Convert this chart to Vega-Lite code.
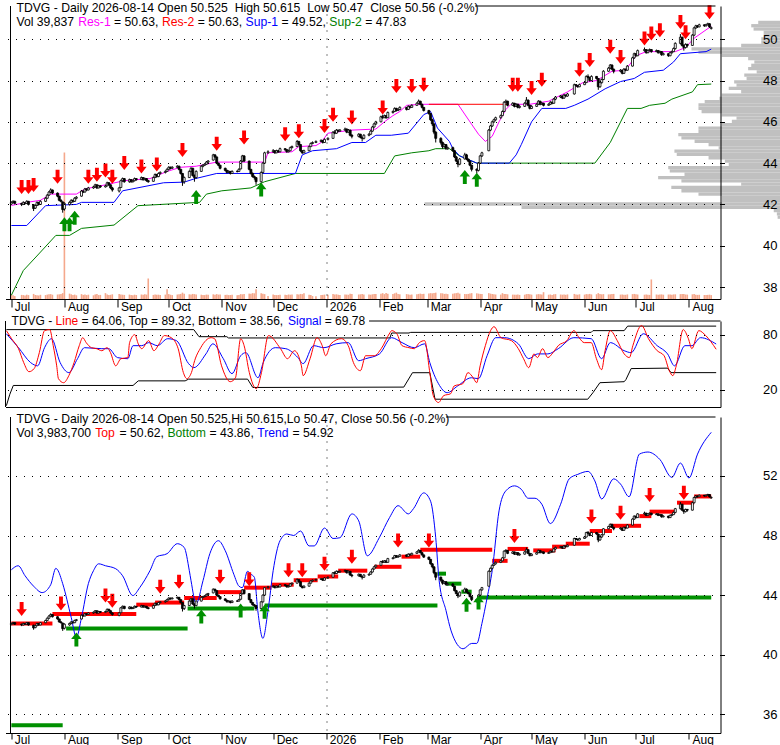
{
"$schema":"https://vega.github.io/schema/vega-lite/v6.json",
"background":"#ffffff",
"padding":{"left":3.5,"top":1,"right":0,"bottom":0},
"config":{"view":{"stroke":null},"font":"Liberation Sans","axis":{"domainColor":"#000","tickColor":"#000","labelColor":"#000","labelFont":"Liberation Sans","gridColor":"#000","gridDash":[1,7],"gridWidth":1,"domainWidth":1,"tickWidth":1}},
"datasets":{
"px":[
{"d":"2025-07-01","o":42.02,"h":42.15,"l":41.98,"c":42.1,"v":45},
{"d":"2025-07-02","o":42.1,"h":42.2,"l":42.05,"c":42.15,"v":38},
{"d":"2025-07-03","o":42.15,"h":42.18,"l":42.0,"c":42.05,"v":30},
{"d":"2025-07-07","o":42.05,"h":42.08,"l":41.92,"c":42.0,"v":42},
{"d":"2025-07-08","o":42.0,"h":42.15,"l":41.97,"c":42.1,"v":40},
{"d":"2025-07-09","o":42.08,"h":42.12,"l":42.0,"c":42.05,"v":35},
{"d":"2025-07-10","o":42.05,"h":42.2,"l":42.02,"c":42.15,"v":44},
{"d":"2025-07-11","o":42.15,"h":42.17,"l":41.95,"c":42.0,"v":40},
{"d":"2025-07-14","o":41.98,"h":42.02,"l":41.68,"c":41.8,"v":52},
{"d":"2025-07-15","o":41.82,"h":42.0,"l":41.78,"c":41.95,"v":41},
{"d":"2025-07-16","o":41.95,"h":42.14,"l":41.92,"c":42.1,"v":39},
{"d":"2025-07-17","o":42.1,"h":42.12,"l":41.95,"c":42.0,"v":36},
{"d":"2025-07-18","o":42.0,"h":42.2,"l":41.98,"c":42.15,"v":43},
{"d":"2025-07-21","o":42.15,"h":42.35,"l":42.12,"c":42.3,"v":40},
{"d":"2025-07-22","o":42.3,"h":42.5,"l":42.28,"c":42.45,"v":45},
{"d":"2025-07-23","o":42.45,"h":42.65,"l":42.42,"c":42.6,"v":48},
{"d":"2025-07-24","o":42.6,"h":42.78,"l":42.55,"c":42.7,"v":50},
{"d":"2025-07-25","o":42.7,"h":42.72,"l":42.5,"c":42.55,"v":44},
{"d":"2025-07-28","o":42.55,"h":42.58,"l":42.35,"c":42.4,"v":46},
{"d":"2025-07-29","o":42.4,"h":42.42,"l":42.15,"c":42.2,"v":48},
{"d":"2025-07-30","o":42.2,"h":42.25,"l":42.1,"c":42.15,"v":52},
{"d":"2025-07-31","o":42.12,"h":42.15,"l":41.6,"c":41.75,"v":60},
{"d":"2025-08-01","o":41.78,"h":42.1,"l":41.7,"c":42.05,"v":1500},
{"d":"2025-08-04","o":42.0,"h":42.15,"l":41.95,"c":42.1,"v":55},
{"d":"2025-08-05","o":42.1,"h":42.25,"l":42.05,"c":42.2,"v":48},
{"d":"2025-08-06","o":42.2,"h":42.22,"l":42.08,"c":42.15,"v":40},
{"d":"2025-08-07","o":42.15,"h":42.35,"l":42.12,"c":42.3,"v":45},
{"d":"2025-08-08","o":42.3,"h":42.4,"l":42.25,"c":42.35,"v":38},
{"d":"2025-08-11","o":42.4,"h":42.7,"l":42.38,"c":42.65,"v":50},
{"d":"2025-08-12","o":42.65,"h":42.68,"l":42.55,"c":42.6,"v":42},
{"d":"2025-08-13","o":42.6,"h":42.8,"l":42.58,"c":42.75,"v":46},
{"d":"2025-08-14","o":42.75,"h":42.78,"l":42.65,"c":42.7,"v":40},
{"d":"2025-08-15","o":42.7,"h":42.85,"l":42.68,"c":42.8,"v":44},
{"d":"2025-08-18","o":42.8,"h":42.9,"l":42.76,"c":42.85,"v":38},
{"d":"2025-08-19","o":42.85,"h":43.0,"l":42.82,"c":42.95,"v":47},
{"d":"2025-08-20","o":42.95,"h":42.97,"l":42.75,"c":42.8,"v":52},
{"d":"2025-08-21","o":42.8,"h":42.95,"l":42.78,"c":42.9,"v":40},
{"d":"2025-08-22","o":42.9,"h":42.93,"l":42.8,"c":42.85,"v":42},
{"d":"2025-08-25","o":42.85,"h":42.95,"l":42.82,"c":42.9,"v":60},
{"d":"2025-08-26","o":42.9,"h":43.1,"l":42.88,"c":43.05,"v":45},
{"d":"2025-08-27","o":43.05,"h":43.08,"l":42.9,"c":42.95,"v":41},
{"d":"2025-08-28","o":42.95,"h":42.98,"l":42.75,"c":42.8,"v":43},
{"d":"2025-08-29","o":42.8,"h":42.85,"l":42.62,"c":42.7,"v":48},
{"d":"2025-09-02","o":42.65,"h":42.85,"l":42.58,"c":42.8,"v":50},
{"d":"2025-09-03","o":42.82,"h":43.2,"l":42.8,"c":43.15,"v":47},
{"d":"2025-09-04","o":43.15,"h":43.3,"l":43.1,"c":43.25,"v":44},
{"d":"2025-09-05","o":43.25,"h":43.28,"l":43.05,"c":43.1,"v":42},
{"d":"2025-09-08","o":43.1,"h":43.25,"l":43.05,"c":43.2,"v":45},
{"d":"2025-09-09","o":43.2,"h":43.22,"l":43.05,"c":43.1,"v":40},
{"d":"2025-09-10","o":43.1,"h":43.2,"l":43.06,"c":43.15,"v":39},
{"d":"2025-09-11","o":43.15,"h":43.3,"l":43.12,"c":43.25,"v":44},
{"d":"2025-09-12","o":43.25,"h":43.27,"l":43.15,"c":43.2,"v":41},
{"d":"2025-09-15","o":43.2,"h":43.35,"l":43.18,"c":43.3,"v":46},
{"d":"2025-09-16","o":43.3,"h":43.32,"l":43.15,"c":43.2,"v":43},
{"d":"2025-09-17","o":43.2,"h":43.3,"l":43.17,"c":43.25,"v":48},
{"d":"2025-09-18","o":43.25,"h":43.28,"l":43.1,"c":43.15,"v":45},
{"d":"2025-09-19","o":43.15,"h":43.18,"l":43.05,"c":43.1,"v":210},
{"d":"2025-09-22","o":43.12,"h":43.35,"l":43.1,"c":43.3,"v":42},
{"d":"2025-09-23","o":43.3,"h":43.5,"l":43.28,"c":43.45,"v":46},
{"d":"2025-09-24","o":43.45,"h":43.48,"l":43.3,"c":43.35,"v":43},
{"d":"2025-09-25","o":43.35,"h":43.55,"l":43.32,"c":43.5,"v":44},
{"d":"2025-09-26","o":43.5,"h":43.6,"l":43.45,"c":43.55,"v":41},
{"d":"2025-09-29","o":43.55,"h":43.65,"l":43.5,"c":43.6,"v":45},
{"d":"2025-09-30","o":43.6,"h":43.75,"l":43.58,"c":43.7,"v":100},
{"d":"2025-10-01","o":43.7,"h":43.85,"l":43.66,"c":43.8,"v":50},
{"d":"2025-10-02","o":43.8,"h":43.83,"l":43.7,"c":43.75,"v":44},
{"d":"2025-10-03","o":43.75,"h":43.85,"l":43.72,"c":43.8,"v":40},
{"d":"2025-10-06","o":43.8,"h":43.9,"l":43.76,"c":43.85,"v":46},
{"d":"2025-10-07","o":43.85,"h":43.88,"l":43.65,"c":43.7,"v":48},
{"d":"2025-10-08","o":43.7,"h":43.72,"l":43.45,"c":43.5,"v":52},
{"d":"2025-10-09","o":43.5,"h":43.52,"l":42.9,"c":43.1,"v":65},
{"d":"2025-10-10","o":43.1,"h":43.35,"l":43.0,"c":43.3,"v":55},
{"d":"2025-10-13","o":43.3,"h":43.65,"l":43.28,"c":43.6,"v":48},
{"d":"2025-10-14","o":43.6,"h":43.8,"l":43.55,"c":43.75,"v":46},
{"d":"2025-10-15","o":43.75,"h":43.78,"l":43.35,"c":43.4,"v":52},
{"d":"2025-10-16","o":43.4,"h":43.45,"l":43.1,"c":43.3,"v":50},
{"d":"2025-10-17","o":43.3,"h":43.65,"l":43.25,"c":43.6,"v":47},
{"d":"2025-10-20","o":43.6,"h":43.9,"l":43.58,"c":43.85,"v":44},
{"d":"2025-10-21","o":43.85,"h":43.95,"l":43.8,"c":43.9,"v":42},
{"d":"2025-10-22","o":43.9,"h":44.0,"l":43.86,"c":43.95,"v":40},
{"d":"2025-10-23","o":43.95,"h":44.1,"l":43.92,"c":44.05,"v":45},
{"d":"2025-10-24","o":44.05,"h":44.15,"l":44.0,"c":44.1,"v":43},
{"d":"2025-10-27","o":44.15,"h":44.45,"l":44.12,"c":44.4,"v":48},
{"d":"2025-10-28","o":44.4,"h":44.42,"l":44.25,"c":44.3,"v":44},
{"d":"2025-10-29","o":44.3,"h":44.32,"l":43.95,"c":44.0,"v":50},
{"d":"2025-10-30","o":44.0,"h":44.02,"l":43.85,"c":43.9,"v":45},
{"d":"2025-10-31","o":43.9,"h":43.92,"l":43.7,"c":43.75,"v":47},
{"d":"2025-11-03","o":43.75,"h":43.78,"l":43.6,"c":43.65,"v":42},
{"d":"2025-11-04","o":43.65,"h":43.68,"l":43.5,"c":43.55,"v":44},
{"d":"2025-11-05","o":43.55,"h":43.65,"l":43.52,"c":43.6,"v":40},
{"d":"2025-11-06","o":43.6,"h":43.62,"l":43.45,"c":43.5,"v":41},
{"d":"2025-11-07","o":43.5,"h":43.65,"l":43.48,"c":43.6,"v":43},
{"d":"2025-11-10","o":43.6,"h":43.65,"l":43.55,"c":43.6,"v":39},
{"d":"2025-11-11","o":43.6,"h":43.75,"l":43.58,"c":43.7,"v":42},
{"d":"2025-11-12","o":43.72,"h":44.15,"l":43.7,"c":44.1,"v":50},
{"d":"2025-11-13","o":44.1,"h":44.4,"l":44.05,"c":44.35,"v":48},
{"d":"2025-11-14","o":44.35,"h":44.38,"l":44.05,"c":44.1,"v":52},
{"d":"2025-11-17","o":44.1,"h":44.12,"l":43.65,"c":43.7,"v":55},
{"d":"2025-11-18","o":43.7,"h":43.72,"l":43.45,"c":43.5,"v":53},
{"d":"2025-11-19","o":43.5,"h":43.55,"l":43.3,"c":43.35,"v":60},
{"d":"2025-11-20","o":43.35,"h":43.4,"l":43.2,"c":43.3,"v":58},
{"d":"2025-11-21","o":43.3,"h":43.32,"l":42.95,"c":43.1,"v":100},
{"d":"2025-11-24","o":43.1,"h":43.6,"l":43.05,"c":43.55,"v":60},
{"d":"2025-11-25","o":43.55,"h":44.05,"l":43.5,"c":44.0,"v":55},
{"d":"2025-11-26","o":44.0,"h":44.55,"l":43.98,"c":44.5,"v":50},
{"d":"2025-11-28","o":44.5,"h":44.62,"l":44.45,"c":44.55,"v":30},
{"d":"2025-12-01","o":44.55,"h":44.68,"l":44.5,"c":44.6,"v":45},
{"d":"2025-12-02","o":44.6,"h":44.63,"l":44.45,"c":44.5,"v":42},
{"d":"2025-12-03","o":44.5,"h":44.65,"l":44.48,"c":44.6,"v":40},
{"d":"2025-12-04","o":44.6,"h":44.63,"l":44.5,"c":44.55,"v":41},
{"d":"2025-12-05","o":44.55,"h":44.75,"l":44.52,"c":44.7,"v":44},
{"d":"2025-12-08","o":44.7,"h":44.72,"l":44.6,"c":44.65,"v":43},
{"d":"2025-12-09","o":44.65,"h":44.68,"l":44.5,"c":44.55,"v":42},
{"d":"2025-12-10","o":44.55,"h":44.65,"l":44.52,"c":44.6,"v":46},
{"d":"2025-12-11","o":44.6,"h":44.8,"l":44.58,"c":44.75,"v":44},
{"d":"2025-12-12","o":44.75,"h":44.85,"l":44.72,"c":44.8,"v":45},
{"d":"2025-12-15","o":44.8,"h":45.12,"l":44.78,"c":45.05,"v":48},
{"d":"2025-12-16","o":45.05,"h":45.08,"l":44.85,"c":44.9,"v":47},
{"d":"2025-12-17","o":44.9,"h":44.92,"l":44.55,"c":44.6,"v":52},
{"d":"2025-12-18","o":44.6,"h":44.62,"l":44.45,"c":44.5,"v":50},
{"d":"2025-12-19","o":44.5,"h":44.65,"l":44.48,"c":44.6,"v":60},
{"d":"2025-12-22","o":44.6,"h":44.85,"l":44.58,"c":44.8,"v":44},
{"d":"2025-12-23","o":44.8,"h":45.0,"l":44.78,"c":44.95,"v":42},
{"d":"2025-12-24","o":44.95,"h":45.05,"l":44.92,"c":45.0,"v":30},
{"d":"2025-12-26","o":45.0,"h":45.1,"l":44.97,"c":45.05,"v":28},
{"d":"2025-12-29","o":45.05,"h":45.15,"l":45.02,"c":45.1,"v":40},
{"d":"2025-12-30","o":45.1,"h":45.12,"l":44.95,"c":45.0,"v":42},
{"d":"2025-12-31","o":45.0,"h":45.2,"l":44.98,"c":45.15,"v":45},
{"d":"2026-01-02","o":45.15,"h":45.25,"l":45.1,"c":45.2,"v":44},
{"d":"2026-01-05","o":45.2,"h":45.55,"l":45.18,"c":45.5,"v":50},
{"d":"2026-01-06","o":45.5,"h":45.6,"l":45.4,"c":45.45,"v":46},
{"d":"2026-01-07","o":45.45,"h":45.65,"l":45.42,"c":45.6,"v":48},
{"d":"2026-01-08","o":45.6,"h":45.62,"l":45.5,"c":45.55,"v":44},
{"d":"2026-01-09","o":45.55,"h":45.65,"l":45.52,"c":45.6,"v":42},
{"d":"2026-01-12","o":45.6,"h":45.72,"l":45.58,"c":45.65,"v":47},
{"d":"2026-01-13","o":45.65,"h":45.68,"l":45.45,"c":45.5,"v":45},
{"d":"2026-01-14","o":45.5,"h":45.65,"l":45.48,"c":45.6,"v":43},
{"d":"2026-01-15","o":45.6,"h":45.62,"l":45.3,"c":45.35,"v":55},
{"d":"2026-01-16","o":45.35,"h":45.4,"l":45.2,"c":45.3,"v":50},
{"d":"2026-01-20","o":45.3,"h":45.45,"l":45.25,"c":45.4,"v":46},
{"d":"2026-01-21","o":45.4,"h":45.42,"l":45.2,"c":45.25,"v":48},
{"d":"2026-01-22","o":45.25,"h":45.28,"l":45.05,"c":45.2,"v":52},
{"d":"2026-01-23","o":45.2,"h":45.4,"l":45.15,"c":45.35,"v":47},
{"d":"2026-01-26","o":45.35,"h":45.45,"l":45.3,"c":45.4,"v":45},
{"d":"2026-01-27","o":45.4,"h":45.6,"l":45.38,"c":45.55,"v":44},
{"d":"2026-01-28","o":45.55,"h":45.8,"l":45.52,"c":45.75,"v":48},
{"d":"2026-01-29","o":45.75,"h":45.95,"l":45.72,"c":45.9,"v":50},
{"d":"2026-01-30","o":45.9,"h":46.05,"l":45.85,"c":46.0,"v":52},
{"d":"2026-02-02","o":46.0,"h":46.3,"l":45.98,"c":46.25,"v":55},
{"d":"2026-02-03","o":46.25,"h":46.35,"l":46.15,"c":46.2,"v":60},
{"d":"2026-02-04","o":46.2,"h":46.35,"l":46.18,"c":46.3,"v":50},
{"d":"2026-02-05","o":46.3,"h":46.32,"l":46.15,"c":46.2,"v":62},
{"d":"2026-02-06","o":46.2,"h":46.5,"l":46.18,"c":46.45,"v":55},
{"d":"2026-02-09","o":46.45,"h":46.55,"l":46.4,"c":46.5,"v":50},
{"d":"2026-02-10","o":46.5,"h":46.7,"l":46.48,"c":46.65,"v":58},
{"d":"2026-02-11","o":46.65,"h":46.68,"l":46.5,"c":46.55,"v":65},
{"d":"2026-02-12","o":46.55,"h":46.65,"l":46.52,"c":46.6,"v":52},
{"d":"2026-02-13","o":46.6,"h":46.75,"l":46.58,"c":46.7,"v":48},
{"d":"2026-02-17","o":46.7,"h":46.72,"l":46.55,"c":46.6,"v":50},
{"d":"2026-02-18","o":46.6,"h":46.8,"l":46.58,"c":46.75,"v":47},
{"d":"2026-02-19","o":46.75,"h":46.78,"l":46.65,"c":46.7,"v":44},
{"d":"2026-02-20","o":46.7,"h":46.85,"l":46.68,"c":46.8,"v":46},
{"d":"2026-02-23","o":46.8,"h":46.95,"l":46.78,"c":46.9,"v":49},
{"d":"2026-02-24","o":46.9,"h":47.08,"l":46.88,"c":47.0,"v":52},
{"d":"2026-02-25","o":47.0,"h":47.02,"l":46.8,"c":46.85,"v":55},
{"d":"2026-02-26","o":46.85,"h":46.88,"l":46.65,"c":46.7,"v":50},
{"d":"2026-02-27","o":46.7,"h":46.72,"l":46.5,"c":46.55,"v":53},
{"d":"2026-03-02","o":46.55,"h":46.58,"l":46.35,"c":46.4,"v":56},
{"d":"2026-03-03","o":46.4,"h":46.42,"l":46.05,"c":46.1,"v":60},
{"d":"2026-03-04","o":46.1,"h":46.15,"l":45.8,"c":45.9,"v":58},
{"d":"2026-03-05","o":45.9,"h":45.92,"l":45.4,"c":45.5,"v":62},
{"d":"2026-03-06","o":45.5,"h":45.55,"l":45.0,"c":45.2,"v":65},
{"d":"2026-03-09","o":45.2,"h":45.25,"l":44.9,"c":45.0,"v":60},
{"d":"2026-03-10","o":45.0,"h":45.05,"l":44.7,"c":44.8,"v":58},
{"d":"2026-03-11","o":44.8,"h":44.95,"l":44.75,"c":44.9,"v":52},
{"d":"2026-03-12","o":44.9,"h":44.92,"l":44.65,"c":44.7,"v":55},
{"d":"2026-03-13","o":44.7,"h":44.8,"l":44.65,"c":44.75,"v":50},
{"d":"2026-03-16","o":44.75,"h":44.8,"l":44.55,"c":44.6,"v":54},
{"d":"2026-03-17","o":44.6,"h":44.62,"l":44.25,"c":44.3,"v":58},
{"d":"2026-03-18","o":44.3,"h":44.35,"l":44.05,"c":44.1,"v":60},
{"d":"2026-03-19","o":44.1,"h":44.12,"l":43.8,"c":43.95,"v":65},
{"d":"2026-03-20","o":43.95,"h":44.25,"l":43.9,"c":44.2,"v":55},
{"d":"2026-03-23","o":44.2,"h":44.5,"l":44.18,"c":44.4,"v":52},
{"d":"2026-03-24","o":44.4,"h":44.45,"l":44.15,"c":44.2,"v":50},
{"d":"2026-03-25","o":44.2,"h":44.22,"l":44.05,"c":44.1,"v":52},
{"d":"2026-03-26","o":44.1,"h":44.12,"l":43.85,"c":43.9,"v":56},
{"d":"2026-03-27","o":43.9,"h":43.92,"l":43.6,"c":43.7,"v":60},
{"d":"2026-03-30","o":43.7,"h":43.75,"l":43.5,"c":43.65,"v":58},
{"d":"2026-03-31","o":43.65,"h":44.05,"l":43.6,"c":44.0,"v":55},
{"d":"2026-04-01","o":44.0,"h":44.4,"l":43.98,"c":44.35,"v":52},
{"d":"2026-04-02","o":44.35,"h":44.55,"l":44.3,"c":44.5,"v":50},
{"d":"2026-04-06","o":44.6,"h":45.65,"l":44.58,"c":45.6,"v":60},
{"d":"2026-04-07","o":45.6,"h":45.85,"l":45.55,"c":45.8,"v":55},
{"d":"2026-04-08","o":45.8,"h":46.05,"l":45.75,"c":46.0,"v":50},
{"d":"2026-04-09","o":46.0,"h":46.15,"l":45.95,"c":46.1,"v":48},
{"d":"2026-04-10","o":46.1,"h":46.25,"l":46.05,"c":46.2,"v":46},
{"d":"2026-04-13","o":46.2,"h":46.35,"l":46.15,"c":46.3,"v":45},
{"d":"2026-04-14","o":46.3,"h":46.55,"l":46.28,"c":46.5,"v":60},
{"d":"2026-04-15","o":46.5,"h":47.0,"l":46.48,"c":46.95,"v":52},
{"d":"2026-04-16","o":46.95,"h":47.08,"l":46.9,"c":47.0,"v":50},
{"d":"2026-04-17","o":47.0,"h":47.02,"l":46.75,"c":46.8,"v":48},
{"d":"2026-04-20","o":46.8,"h":46.95,"l":46.78,"c":46.9,"v":45},
{"d":"2026-04-21","o":46.9,"h":46.92,"l":46.7,"c":46.75,"v":44},
{"d":"2026-04-22","o":46.75,"h":46.9,"l":46.72,"c":46.85,"v":43},
{"d":"2026-04-23","o":46.85,"h":46.88,"l":46.65,"c":46.7,"v":46},
{"d":"2026-04-24","o":46.7,"h":46.8,"l":46.65,"c":46.75,"v":42},
{"d":"2026-04-27","o":46.75,"h":46.95,"l":46.72,"c":46.9,"v":44},
{"d":"2026-04-28","o":46.9,"h":47.2,"l":46.88,"c":47.05,"v":50},
{"d":"2026-04-29","o":47.05,"h":47.08,"l":46.75,"c":46.8,"v":52},
{"d":"2026-04-30","o":46.8,"h":46.82,"l":46.6,"c":46.65,"v":48},
{"d":"2026-05-01","o":46.65,"h":46.8,"l":46.62,"c":46.75,"v":45},
{"d":"2026-05-04","o":46.75,"h":46.9,"l":46.72,"c":46.85,"v":47},
{"d":"2026-05-05","o":46.85,"h":47.05,"l":46.82,"c":47.0,"v":50},
{"d":"2026-05-06","o":47.0,"h":47.02,"l":46.8,"c":46.85,"v":48},
{"d":"2026-05-07","o":46.85,"h":46.95,"l":46.82,"c":46.9,"v":45},
{"d":"2026-05-08","o":46.9,"h":46.92,"l":46.75,"c":46.8,"v":70},
{"d":"2026-05-11","o":46.8,"h":46.9,"l":46.78,"c":46.85,"v":44},
{"d":"2026-05-12","o":46.85,"h":47.0,"l":46.82,"c":46.95,"v":46},
{"d":"2026-05-13","o":46.95,"h":46.98,"l":46.85,"c":46.9,"v":42},
{"d":"2026-05-14","o":46.9,"h":47.15,"l":46.88,"c":47.1,"v":48},
{"d":"2026-05-15","o":47.1,"h":47.25,"l":47.05,"c":47.2,"v":50},
{"d":"2026-05-18","o":47.2,"h":47.3,"l":47.15,"c":47.25,"v":46},
{"d":"2026-05-19","o":47.25,"h":47.28,"l":47.1,"c":47.15,"v":44},
{"d":"2026-05-20","o":47.15,"h":47.35,"l":47.12,"c":47.3,"v":45},
{"d":"2026-05-21","o":47.3,"h":47.32,"l":47.2,"c":47.25,"v":43},
{"d":"2026-05-22","o":47.25,"h":47.4,"l":47.22,"c":47.35,"v":47},
{"d":"2026-05-26","o":47.35,"h":47.85,"l":47.32,"c":47.8,"v":52},
{"d":"2026-05-27","o":47.8,"h":47.82,"l":47.7,"c":47.75,"v":46},
{"d":"2026-05-28","o":47.75,"h":47.78,"l":47.65,"c":47.7,"v":44},
{"d":"2026-05-29","o":47.7,"h":47.85,"l":47.68,"c":47.8,"v":48},
{"d":"2026-06-01","o":47.8,"h":47.95,"l":47.78,"c":47.9,"v":45},
{"d":"2026-06-02","o":47.9,"h":48.25,"l":47.88,"c":48.2,"v":50},
{"d":"2026-06-03","o":48.2,"h":48.3,"l":48.1,"c":48.15,"v":48},
{"d":"2026-06-04","o":48.15,"h":48.18,"l":47.95,"c":48.0,"v":52},
{"d":"2026-06-05","o":48.0,"h":48.25,"l":47.98,"c":48.2,"v":47},
{"d":"2026-06-08","o":48.2,"h":48.22,"l":48.05,"c":48.1,"v":49},
{"d":"2026-06-09","o":48.1,"h":48.12,"l":47.55,"c":47.7,"v":60},
{"d":"2026-06-10","o":47.7,"h":47.95,"l":47.65,"c":47.9,"v":52},
{"d":"2026-06-11","o":47.9,"h":48.1,"l":47.85,"c":48.05,"v":48},
{"d":"2026-06-12","o":48.05,"h":48.5,"l":48.02,"c":48.45,"v":50},
{"d":"2026-06-15","o":48.45,"h":48.65,"l":48.42,"c":48.6,"v":47},
{"d":"2026-06-16","o":48.6,"h":48.8,"l":48.55,"c":48.75,"v":48},
{"d":"2026-06-17","o":48.75,"h":48.78,"l":48.5,"c":48.55,"v":50},
{"d":"2026-06-18","o":48.55,"h":48.58,"l":48.35,"c":48.45,"v":52},
{"d":"2026-06-22","o":48.45,"h":48.55,"l":48.4,"c":48.5,"v":45},
{"d":"2026-06-23","o":48.5,"h":48.52,"l":48.3,"c":48.35,"v":46},
{"d":"2026-06-24","o":48.35,"h":48.6,"l":48.32,"c":48.55,"v":44},
{"d":"2026-06-25","o":48.55,"h":48.58,"l":48.45,"c":48.5,"v":43},
{"d":"2026-06-26","o":48.5,"h":48.75,"l":48.48,"c":48.7,"v":47},
{"d":"2026-06-29","o":48.7,"h":49.15,"l":48.68,"c":49.1,"v":50},
{"d":"2026-06-30","o":49.1,"h":49.35,"l":49.05,"c":49.3,"v":52},
{"d":"2026-07-01","o":49.3,"h":49.32,"l":49.15,"c":49.2,"v":48},
{"d":"2026-07-02","o":49.2,"h":49.5,"l":49.18,"c":49.45,"v":46},
{"d":"2026-07-06","o":49.45,"h":49.6,"l":49.4,"c":49.5,"v":44},
{"d":"2026-07-07","o":49.5,"h":49.52,"l":49.3,"c":49.35,"v":45},
{"d":"2026-07-08","o":49.35,"h":49.5,"l":49.32,"c":49.45,"v":43},
{"d":"2026-07-09","o":49.45,"h":49.55,"l":49.42,"c":49.5,"v":42},
{"d":"2026-07-10","o":49.5,"h":49.52,"l":49.35,"c":49.4,"v":200},
{"d":"2026-07-13","o":49.4,"h":49.5,"l":49.38,"c":49.45,"v":46},
{"d":"2026-07-14","o":49.45,"h":49.48,"l":49.3,"c":49.35,"v":44},
{"d":"2026-07-15","o":49.35,"h":49.45,"l":49.32,"c":49.4,"v":45},
{"d":"2026-07-16","o":49.4,"h":49.42,"l":49.2,"c":49.25,"v":47},
{"d":"2026-07-17","o":49.25,"h":49.35,"l":49.22,"c":49.3,"v":44},
{"d":"2026-07-20","o":49.3,"h":49.32,"l":49.15,"c":49.2,"v":46},
{"d":"2026-07-21","o":49.2,"h":49.4,"l":49.18,"c":49.35,"v":45},
{"d":"2026-07-22","o":49.35,"h":49.45,"l":49.3,"c":49.4,"v":44},
{"d":"2026-07-23","o":49.4,"h":49.6,"l":49.38,"c":49.55,"v":47},
{"d":"2026-07-24","o":49.55,"h":49.85,"l":49.5,"c":49.8,"v":48},
{"d":"2026-07-27","o":49.8,"h":50.25,"l":49.75,"c":50.1,"v":50},
{"d":"2026-07-28","o":50.1,"h":50.12,"l":49.65,"c":49.7,"v":52},
{"d":"2026-07-29","o":49.7,"h":49.75,"l":49.45,"c":49.6,"v":50},
{"d":"2026-07-30","o":49.6,"h":49.8,"l":49.55,"c":49.75,"v":46},
{"d":"2026-07-31","o":49.75,"h":49.78,"l":49.6,"c":49.7,"v":45},
{"d":"2026-08-03","o":49.7,"h":50.25,"l":49.68,"c":50.2,"v":48},
{"d":"2026-08-04","o":50.2,"h":50.6,"l":50.15,"c":50.55,"v":50},
{"d":"2026-08-05","o":50.55,"h":50.7,"l":50.5,"c":50.65,"v":44},
{"d":"2026-08-06","o":50.65,"h":50.68,"l":50.55,"c":50.6,"v":42},
{"d":"2026-08-07","o":50.6,"h":50.75,"l":50.58,"c":50.7,"v":43},
{"d":"2026-08-10","o":50.7,"h":50.72,"l":50.6,"c":50.65,"v":41},
{"d":"2026-08-11","o":50.65,"h":50.75,"l":50.62,"c":50.7,"v":40},
{"d":"2026-08-12","o":50.7,"h":50.8,"l":50.68,"c":50.75,"v":42},
{"d":"2026-08-13","o":50.75,"h":50.77,"l":50.55,"c":50.6,"v":44},
{"d":"2026-08-14","o":50.525,"h":50.615,"l":50.47,"c":50.56,"v":39.8}
],
"tl":[
{"d":"2025-07-01","s":"Sup-2","v":37.6},{"d":"2025-07-08","s":"Sup-2","v":38.8},{"d":"2025-07-17","s":"Sup-2","v":39.6},{"d":"2025-07-27","s":"Sup-2","v":40.5},{"d":"2025-08-04","s":"Sup-2","v":40.5},{"d":"2025-08-11","s":"Sup-2","v":40.84},{"d":"2025-08-30","s":"Sup-2","v":41.0},{"d":"2025-09-13","s":"Sup-2","v":41.94},{"d":"2025-10-19","s":"Sup-2","v":42.1},{"d":"2025-10-23","s":"Sup-2","v":42.5},{"d":"2025-11-01","s":"Sup-2","v":42.66},{"d":"2025-11-18","s":"Sup-2","v":42.8},{"d":"2025-11-26","s":"Sup-2","v":43.1},{"d":"2025-12-14","s":"Sup-2","v":43.5},{"d":"2026-02-04","s":"Sup-2","v":43.5},{"d":"2026-02-10","s":"Sup-2","v":44.35},{"d":"2026-02-20","s":"Sup-2","v":44.5},{"d":"2026-03-02","s":"Sup-2","v":44.6},{"d":"2026-03-06","s":"Sup-2","v":44.7},{"d":"2026-03-14","s":"Sup-2","v":44.7},{"d":"2026-03-20","s":"Sup-2","v":44.35},{"d":"2026-03-30","s":"Sup-2","v":44.0},{"d":"2026-06-07","s":"Sup-2","v":44.0},{"d":"2026-06-16","s":"Sup-2","v":45.0},{"d":"2026-06-26","s":"Sup-2","v":46.65},{"d":"2026-07-04","s":"Sup-2","v":46.65},{"d":"2026-07-09","s":"Sup-2","v":46.8},{"d":"2026-07-18","s":"Sup-2","v":46.9},{"d":"2026-07-22","s":"Sup-2","v":47.1},{"d":"2026-08-03","s":"Sup-2","v":47.45},{"d":"2026-08-06","s":"Sup-2","v":47.8},{"d":"2026-08-14","s":"Sup-2","v":47.83},
{"d":"2025-07-01","s":"Sup-1","v":40.98},{"d":"2025-07-10","s":"Sup-1","v":40.98},{"d":"2025-07-21","s":"Sup-1","v":41.94},{"d":"2025-08-08","s":"Sup-1","v":42.0},{"d":"2025-08-11","s":"Sup-1","v":42.1},{"d":"2025-08-30","s":"Sup-1","v":42.1},{"d":"2025-09-04","s":"Sup-1","v":42.66},{"d":"2025-09-28","s":"Sup-1","v":43.05},{"d":"2025-10-10","s":"Sup-1","v":43.08},{"d":"2025-10-16","s":"Sup-1","v":43.24},{"d":"2025-10-29","s":"Sup-1","v":43.5},{"d":"2025-12-14","s":"Sup-1","v":43.5},{"d":"2025-12-18","s":"Sup-1","v":44.4},{"d":"2025-12-24","s":"Sup-1","v":44.6},{"d":"2026-01-07","s":"Sup-1","v":44.7},{"d":"2026-01-16","s":"Sup-1","v":45.0},{"d":"2026-01-24","s":"Sup-1","v":45.0},{"d":"2026-01-30","s":"Sup-1","v":45.35},{"d":"2026-02-08","s":"Sup-1","v":45.35},{"d":"2026-02-18","s":"Sup-1","v":45.45},{"d":"2026-02-27","s":"Sup-1","v":46.35},{"d":"2026-03-03","s":"Sup-1","v":46.5},{"d":"2026-03-07","s":"Sup-1","v":45.7},{"d":"2026-03-14","s":"Sup-1","v":45.05},{"d":"2026-03-16","s":"Sup-1","v":44.7},{"d":"2026-03-20","s":"Sup-1","v":44.35},{"d":"2026-03-30","s":"Sup-1","v":44.0},{"d":"2026-04-18","s":"Sup-1","v":44.0},{"d":"2026-04-22","s":"Sup-1","v":44.4},{"d":"2026-04-25","s":"Sup-1","v":44.9},{"d":"2026-05-01","s":"Sup-1","v":46.0},{"d":"2026-05-07","s":"Sup-1","v":46.65},{"d":"2026-05-21","s":"Sup-1","v":46.65},{"d":"2026-05-26","s":"Sup-1","v":46.8},{"d":"2026-06-03","s":"Sup-1","v":47.1},{"d":"2026-06-13","s":"Sup-1","v":47.6},{"d":"2026-06-22","s":"Sup-1","v":47.95},{"d":"2026-06-30","s":"Sup-1","v":48.1},{"d":"2026-07-06","s":"Sup-1","v":48.4},{"d":"2026-07-17","s":"Sup-1","v":48.5},{"d":"2026-07-23","s":"Sup-1","v":48.9},{"d":"2026-07-27","s":"Sup-1","v":49.3},{"d":"2026-08-11","s":"Sup-1","v":49.4},{"d":"2026-08-14","s":"Sup-1","v":49.52},
{"d":"2025-07-01","s":"Res-1","v":41.95},{"d":"2025-07-10","s":"Res-1","v":42.1},{"d":"2025-07-18","s":"Res-1","v":42.2},{"d":"2025-07-24","s":"Res-1","v":42.5},{"d":"2025-08-08","s":"Res-1","v":42.5},{"d":"2025-08-13","s":"Res-1","v":42.75},{"d":"2025-08-25","s":"Res-1","v":42.95},{"d":"2025-09-05","s":"Res-1","v":43.15},{"d":"2025-09-20","s":"Res-1","v":43.25},{"d":"2025-09-30","s":"Res-1","v":43.6},{"d":"2025-10-08","s":"Res-1","v":43.8},{"d":"2025-10-17","s":"Res-1","v":43.85},{"d":"2025-10-29","s":"Res-1","v":44.05},{"d":"2025-11-26","s":"Res-1","v":44.05},{"d":"2025-11-28","s":"Res-1","v":44.5},{"d":"2025-12-12","s":"Res-1","v":44.55},{"d":"2025-12-16","s":"Res-1","v":44.8},{"d":"2025-12-26","s":"Res-1","v":44.85},{"d":"2025-12-29","s":"Res-1","v":45.0},{"d":"2026-01-02","s":"Res-1","v":45.45},{"d":"2026-01-16","s":"Res-1","v":45.6},{"d":"2026-01-30","s":"Res-1","v":45.65},{"d":"2026-02-04","s":"Res-1","v":46.0},{"d":"2026-02-09","s":"Res-1","v":46.3},{"d":"2026-02-13","s":"Res-1","v":46.5},{"d":"2026-02-17","s":"Res-1","v":46.8},{"d":"2026-02-25","s":"Res-1","v":46.85},{"d":"2026-03-19","s":"Res-1","v":46.85},{"d":"2026-03-26","s":"Res-1","v":46.0},{"d":"2026-03-31","s":"Res-1","v":45.4},{"d":"2026-04-04","s":"Res-1","v":45.05},{"d":"2026-04-08","s":"Res-1","v":45.3},{"d":"2026-04-12","s":"Res-1","v":46.0},{"d":"2026-04-16","s":"Res-1","v":46.6},{"d":"2026-04-19","s":"Res-1","v":46.85},{"d":"2026-04-30","s":"Res-1","v":46.85},{"d":"2026-05-11","s":"Res-1","v":47.0},{"d":"2026-05-22","s":"Res-1","v":47.45},{"d":"2026-05-31","s":"Res-1","v":47.9},{"d":"2026-06-08","s":"Res-1","v":48.0},{"d":"2026-06-17","s":"Res-1","v":48.45},{"d":"2026-06-25","s":"Res-1","v":48.5},{"d":"2026-07-01","s":"Res-1","v":49.2},{"d":"2026-07-07","s":"Res-1","v":49.4},{"d":"2026-07-24","s":"Res-1","v":49.4},{"d":"2026-07-30","s":"Res-1","v":49.6},{"d":"2026-08-04","s":"Res-1","v":50.05},{"d":"2026-08-14","s":"Res-1","v":50.63},
{"d":"2026-03-02","s":"Res-2","v":46.85},{"d":"2026-04-17","s":"Res-2","v":46.85}
],
"at":[
{"d":"2025-07-07","v":42.5,"t":"down"},{"d":"2025-07-11","v":42.5,"t":"down"},{"d":"2025-07-14","v":42.6,"t":"down"},{"d":"2025-07-28","v":43.0,"t":"down"},{"d":"2025-08-15","v":43.0,"t":"down"},{"d":"2025-08-20","v":43.1,"t":"down"},{"d":"2025-08-25","v":43.3,"t":"down"},{"d":"2025-08-29","v":43.0,"t":"down"},{"d":"2025-09-05","v":43.67,"t":"down"},{"d":"2025-09-15","v":43.5,"t":"down"},{"d":"2025-09-24","v":43.6,"t":"down"},{"d":"2025-10-09","v":44.3,"t":"down"},{"d":"2025-10-29","v":44.6,"t":"down"},{"d":"2025-11-14","v":44.9,"t":"down"},{"d":"2025-12-08","v":45.06,"t":"down"},{"d":"2025-12-16","v":45.2,"t":"down"},{"d":"2025-12-31","v":45.46,"t":"down"},{"d":"2026-01-05","v":46.0,"t":"down"},{"d":"2026-01-16","v":45.87,"t":"down"},{"d":"2026-02-03","v":46.35,"t":"down"},{"d":"2026-02-11","v":47.4,"t":"down"},{"d":"2026-02-20","v":47.4,"t":"down"},{"d":"2026-02-27","v":47.46,"t":"down"},{"d":"2026-04-20","v":47.46,"t":"down"},{"d":"2026-04-23","v":47.46,"t":"down"},{"d":"2026-05-01","v":47.3,"t":"down"},{"d":"2026-05-07","v":47.7,"t":"down"},{"d":"2026-05-29","v":48.18,"t":"down"},{"d":"2026-06-04","v":48.66,"t":"down"},{"d":"2026-06-16","v":49.3,"t":"down"},{"d":"2026-06-22","v":48.8,"t":"down"},{"d":"2026-07-06","v":49.7,"t":"down"},{"d":"2026-07-10","v":49.94,"t":"down"},{"d":"2026-07-15","v":50.1,"t":"down"},{"d":"2026-07-27","v":50.5,"t":"down"},{"d":"2026-07-30","v":50.0,"t":"down"},{"d":"2026-08-13","v":50.97,"t":"down"},
{"d":"2025-08-01","v":41.38,"t":"up"},{"d":"2025-08-04","v":41.38,"t":"up"},{"d":"2025-08-07","v":41.7,"t":"up"},{"d":"2025-10-17","v":42.7,"t":"up"},{"d":"2025-11-24","v":43.06,"t":"up"},{"d":"2026-03-23","v":43.67,"t":"up"},{"d":"2026-03-30","v":43.54,"t":"up"}
],
"ab":[
{"d":"2025-07-07","v":42.6,"t":"down"},{"d":"2025-07-30","v":42.97,"t":"down"},{"d":"2025-08-25","v":43.5,"t":"down"},{"d":"2025-08-29","v":43.16,"t":"down"},{"d":"2025-09-26","v":44.1,"t":"down"},{"d":"2025-10-07","v":44.43,"t":"down"},{"d":"2025-10-31","v":44.77,"t":"down"},{"d":"2025-11-17","v":44.6,"t":"down"},{"d":"2025-12-10","v":45.2,"t":"down"},{"d":"2025-12-18","v":45.2,"t":"down"},{"d":"2025-12-31","v":45.64,"t":"down"},{"d":"2026-01-16","v":46.1,"t":"down"},{"d":"2026-02-12","v":47.2,"t":"down"},{"d":"2026-03-02","v":47.2,"t":"down"},{"d":"2026-04-21","v":47.5,"t":"down"},{"d":"2026-06-05","v":48.8,"t":"down"},{"d":"2026-06-22","v":49.05,"t":"down"},{"d":"2026-07-09","v":50.25,"t":"down"},{"d":"2026-07-29","v":50.4,"t":"down"},
{"d":"2025-08-08","v":41.5,"t":"up"},{"d":"2025-10-20","v":43.03,"t":"up"},{"d":"2025-11-12","v":43.43,"t":"up"},{"d":"2025-11-26","v":43.36,"t":"up"},{"d":"2026-03-24","v":43.83,"t":"up"},{"d":"2026-03-31","v":43.97,"t":"up"}
],
"pf":[
{"lo":50.735,"hi":50.895,"pv":30},{"lo":50.575,"hi":50.735,"pv":39},{"lo":50.416,"hi":50.575,"pv":36},{"lo":50.256,"hi":50.416,"pv":23},{"lo":50.096,"hi":50.256,"pv":23},{"lo":49.936,"hi":50.096,"pv":26},{"lo":49.776,"hi":49.936,"pv":26},{"lo":49.616,"hi":49.776,"pv":52},{"lo":49.457,"hi":49.616,"pv":116},{"lo":49.297,"hi":49.457,"pv":107},{"lo":49.137,"hi":49.297,"pv":77},{"lo":48.977,"hi":49.137,"pv":43},{"lo":48.817,"hi":48.977,"pv":35},{"lo":48.657,"hi":48.817,"pv":39},{"lo":48.497,"hi":48.657,"pv":43},{"lo":48.338,"hi":48.497,"pv":32},{"lo":48.178,"hi":48.338,"pv":48},{"lo":48.018,"hi":48.178,"pv":45},{"lo":47.858,"hi":48.018,"pv":61},{"lo":47.698,"hi":47.858,"pv":58},{"lo":47.538,"hi":47.698,"pv":68},{"lo":47.378,"hi":47.538,"pv":52},{"lo":47.218,"hi":47.378,"pv":77},{"lo":47.058,"hi":47.218,"pv":80},{"lo":46.899,"hi":47.058,"pv":99},{"lo":46.739,"hi":46.899,"pv":107},{"lo":46.579,"hi":46.739,"pv":107},{"lo":46.419,"hi":46.579,"pv":103},{"lo":46.259,"hi":46.419,"pv":77},{"lo":46.099,"hi":46.259,"pv":58},{"lo":45.939,"hi":46.099,"pv":64},{"lo":45.779,"hi":45.939,"pv":77},{"lo":45.62,"hi":45.779,"pv":107},{"lo":45.46,"hi":45.62,"pv":107},{"lo":45.3,"hi":45.46,"pv":133},{"lo":45.14,"hi":45.3,"pv":129},{"lo":44.98,"hi":45.14,"pv":112},{"lo":44.82,"hi":44.98,"pv":94},{"lo":44.66,"hi":44.82,"pv":81},{"lo":44.5,"hi":44.66,"pv":138},{"lo":44.341,"hi":44.5,"pv":135},{"lo":44.181,"hi":44.341,"pv":94},{"lo":44.021,"hi":44.181,"pv":73},{"lo":43.861,"hi":44.021,"pv":68},{"lo":43.701,"hi":43.861,"pv":146},{"lo":43.541,"hi":43.701,"pv":144},{"lo":43.382,"hi":43.541,"pv":125},{"lo":43.222,"hi":43.382,"pv":159},{"lo":43.062,"hi":43.222,"pv":129},{"lo":42.902,"hi":43.062,"pv":52},{"lo":42.742,"hi":42.902,"pv":142},{"lo":42.582,"hi":42.742,"pv":129},{"lo":42.422,"hi":42.582,"pv":107},{"lo":42.262,"hi":42.422,"pv":77},{"lo":42.102,"hi":42.262,"pv":77},{"lo":41.942,"hi":42.102,"pv":460},{"lo":41.782,"hi":41.942,"pv":335},{"lo":41.622,"hi":41.782,"pv":10},{"lo":41.463,"hi":41.622,"pv":6},{"lo":41.303,"hi":41.463,"pv":5}
],
"os":[
{"d":"2025-07-01","s":"L","v":84.4},{"d":"2025-07-04","s":"L","v":75.6},{"d":"2025-07-08","s":"L","v":64.7},{"d":"2025-07-11","s":"L","v":49.5},{"d":"2025-07-14","s":"L","v":39.6},{"d":"2025-07-17","s":"L","v":43},{"d":"2025-07-20","s":"L","v":60.4},{"d":"2025-07-23","s":"L","v":84.4},{"d":"2025-07-26","s":"L","v":85.5},{"d":"2025-07-28","s":"L","v":68},{"d":"2025-07-30","s":"L","v":46},{"d":"2025-07-31","s":"L","v":32},{"d":"2025-08-03","s":"L","v":27.6},{"d":"2025-08-06","s":"L","v":35.3},{"d":"2025-08-09","s":"L","v":49.5},{"d":"2025-08-12","s":"L","v":68},{"d":"2025-08-14","s":"L","v":76.7},{"d":"2025-08-16","s":"L","v":71.3},{"d":"2025-08-19","s":"L","v":65.8},{"d":"2025-08-22","s":"L","v":64.7},{"d":"2025-08-25","s":"L","v":62.5},{"d":"2025-08-28","s":"L","v":65.8},{"d":"2025-08-30","s":"L","v":60.4},{"d":"2025-09-02","s":"L","v":46},{"d":"2025-09-05","s":"L","v":53.8},{"d":"2025-09-09","s":"L","v":55},{"d":"2025-09-10","s":"L","v":71.3},{"d":"2025-09-13","s":"L","v":80},{"d":"2025-09-15","s":"L","v":70},{"d":"2025-09-17","s":"L","v":64.7},{"d":"2025-09-21","s":"L","v":73.5},{"d":"2025-09-24","s":"L","v":62.5},{"d":"2025-09-27","s":"L","v":70},{"d":"2025-09-30","s":"L","v":79},{"d":"2025-10-04","s":"L","v":76.7},{"d":"2025-10-08","s":"L","v":64.7},{"d":"2025-10-11","s":"L","v":38.6},{"d":"2025-10-13","s":"L","v":32},{"d":"2025-10-16","s":"L","v":40.7},{"d":"2025-10-17","s":"L","v":48.4},{"d":"2025-10-21","s":"L","v":65.8},{"d":"2025-10-27","s":"L","v":76.7},{"d":"2025-10-29","s":"L","v":75.6},{"d":"2025-11-02","s":"L","v":46},{"d":"2025-11-07","s":"L","v":28.7},{"d":"2025-11-10","s":"L","v":33},{"d":"2025-11-13","s":"L","v":75.6},{"d":"2025-11-15","s":"L","v":68},{"d":"2025-11-18","s":"L","v":38.6},{"d":"2025-11-22","s":"L","v":21},{"d":"2025-11-25","s":"L","v":38.6},{"d":"2025-11-29","s":"L","v":79},{"d":"2025-12-06","s":"L","v":64.7},{"d":"2025-12-10","s":"L","v":53.8},{"d":"2025-12-14","s":"L","v":62.5},{"d":"2025-12-18","s":"L","v":46},{"d":"2025-12-19","s":"L","v":35.3},{"d":"2025-12-23","s":"L","v":53.8},{"d":"2025-12-27","s":"L","v":76.7},{"d":"2025-12-30","s":"L","v":68},{"d":"2026-01-01","s":"L","v":57},{"d":"2026-01-04","s":"L","v":70},{"d":"2026-01-10","s":"L","v":75.6},{"d":"2026-01-14","s":"L","v":68},{"d":"2026-01-17","s":"L","v":49.5},{"d":"2026-01-21","s":"L","v":40.7},{"d":"2026-01-24","s":"L","v":57},{"d":"2026-01-29","s":"L","v":57},{"d":"2026-02-02","s":"L","v":64.7},{"d":"2026-02-07","s":"L","v":82},{"d":"2026-02-08","s":"L","v":84.4},{"d":"2026-02-11","s":"L","v":81},{"d":"2026-02-14","s":"L","v":68},{"d":"2026-02-18","s":"L","v":65.8},{"d":"2026-02-21","s":"L","v":64.7},{"d":"2026-02-24","s":"L","v":71.3},{"d":"2026-02-27","s":"L","v":73.5},{"d":"2026-03-02","s":"L","v":38.6},{"d":"2026-03-04","s":"L","v":13.5},{"d":"2026-03-07","s":"L","v":6},{"d":"2026-03-10","s":"L","v":13.5},{"d":"2026-03-14","s":"L","v":15.6},{"d":"2026-03-16","s":"L","v":24},{"d":"2026-03-21","s":"L","v":26.5},{"d":"2026-03-24","s":"L","v":38.6},{"d":"2026-03-27","s":"L","v":33},{"d":"2026-03-29","s":"L","v":27.6},{"d":"2026-03-31","s":"L","v":46},{"d":"2026-04-03","s":"L","v":68},{"d":"2026-04-06","s":"L","v":84.4},{"d":"2026-04-08","s":"L","v":88.7},{"d":"2026-04-12","s":"L","v":76.7},{"d":"2026-04-18","s":"L","v":73.5},{"d":"2026-04-22","s":"L","v":64.7},{"d":"2026-04-25","s":"L","v":53.8},{"d":"2026-04-28","s":"L","v":44},{"d":"2026-05-01","s":"L","v":59},{"d":"2026-05-03","s":"L","v":55},{"d":"2026-05-06","s":"L","v":64.7},{"d":"2026-05-09","s":"L","v":55},{"d":"2026-05-12","s":"L","v":60.4},{"d":"2026-05-15","s":"L","v":68},{"d":"2026-05-20","s":"L","v":73.5},{"d":"2026-05-24","s":"L","v":84.4},{"d":"2026-05-27","s":"L","v":76.7},{"d":"2026-05-30","s":"L","v":71.3},{"d":"2026-06-03","s":"L","v":71.3},{"d":"2026-06-06","s":"L","v":53.8},{"d":"2026-06-09","s":"L","v":41.8},{"d":"2026-06-11","s":"L","v":62.5},{"d":"2026-06-14","s":"L","v":84.4},{"d":"2026-06-18","s":"L","v":73.5},{"d":"2026-06-22","s":"L","v":59},{"d":"2026-06-25","s":"L","v":55},{"d":"2026-06-27","s":"L","v":68},{"d":"2026-07-02","s":"L","v":90},{"d":"2026-07-06","s":"L","v":75.6},{"d":"2026-07-11","s":"L","v":62.5},{"d":"2026-07-15","s":"L","v":57},{"d":"2026-07-18","s":"L","v":40.7},{"d":"2026-07-20","s":"L","v":35.3},{"d":"2026-07-22","s":"L","v":46},{"d":"2026-07-26","s":"L","v":85.5},{"d":"2026-07-29","s":"L","v":75.6},{"d":"2026-07-31","s":"L","v":64.7},{"d":"2026-08-04","s":"L","v":84.4},{"d":"2026-08-08","s":"L","v":79},{"d":"2026-08-14","s":"L","v":64.06},
{"d":"2025-07-01","s":"S","v":81},{"d":"2025-07-08","s":"S","v":65.8},{"d":"2025-07-15","s":"S","v":49.5},{"d":"2025-07-19","s":"S","v":46},{"d":"2025-07-23","s":"S","v":65.8},{"d":"2025-07-27","s":"S","v":75.6},{"d":"2025-08-01","s":"S","v":49.5},{"d":"2025-08-06","s":"S","v":38.6},{"d":"2025-08-11","s":"S","v":53.8},{"d":"2025-08-15","s":"S","v":65.8},{"d":"2025-08-25","s":"S","v":64.7},{"d":"2025-08-29","s":"S","v":64.7},{"d":"2025-09-03","s":"S","v":55},{"d":"2025-09-09","s":"S","v":53.8},{"d":"2025-09-12","s":"S","v":68},{"d":"2025-09-17","s":"S","v":68},{"d":"2025-09-21","s":"S","v":71.3},{"d":"2025-09-26","s":"S","v":68},{"d":"2025-10-02","s":"S","v":75.6},{"d":"2025-10-07","s":"S","v":73.5},{"d":"2025-10-14","s":"S","v":48.4},{"d":"2025-10-17","s":"S","v":44},{"d":"2025-10-24","s":"S","v":59},{"d":"2025-10-28","s":"S","v":70},{"d":"2025-11-03","s":"S","v":53.8},{"d":"2025-11-08","s":"S","v":37.5},{"d":"2025-11-13","s":"S","v":57},{"d":"2025-11-16","s":"S","v":60.4},{"d":"2025-11-23","s":"S","v":33},{"d":"2025-11-26","s":"S","v":49.5},{"d":"2025-12-03","s":"S","v":65.8},{"d":"2025-12-09","s":"S","v":64.7},{"d":"2025-12-16","s":"S","v":55},{"d":"2025-12-19","s":"S","v":48.4},{"d":"2025-12-25","s":"S","v":68},{"d":"2025-12-31","s":"S","v":65.8},{"d":"2026-01-07","s":"S","v":70},{"d":"2026-01-14","s":"S","v":71.3},{"d":"2026-01-20","s":"S","v":51.6},{"d":"2026-01-24","s":"S","v":53.8},{"d":"2026-02-01","s":"S","v":59},{"d":"2026-02-08","s":"S","v":76.7},{"d":"2026-02-14","s":"S","v":71.3},{"d":"2026-02-21","s":"S","v":65.8},{"d":"2026-02-27","s":"S","v":70},{"d":"2026-03-02","s":"S","v":49.5},{"d":"2026-03-07","s":"S","v":26.5},{"d":"2026-03-12","s":"S","v":16.7},{"d":"2026-03-18","s":"S","v":24},{"d":"2026-03-26","s":"S","v":33},{"d":"2026-03-30","s":"S","v":32},{"d":"2026-04-04","s":"S","v":57},{"d":"2026-04-09","s":"S","v":76.7},{"d":"2026-04-14","s":"S","v":76.7},{"d":"2026-04-22","s":"S","v":70},{"d":"2026-04-28","s":"S","v":53.8},{"d":"2026-05-03","s":"S","v":59},{"d":"2026-05-09","s":"S","v":59},{"d":"2026-05-15","s":"S","v":64.7},{"d":"2026-05-24","s":"S","v":76.7},{"d":"2026-06-03","s":"S","v":75.6},{"d":"2026-06-09","s":"S","v":53.8},{"d":"2026-06-14","s":"S","v":71.3},{"d":"2026-06-22","s":"S","v":62.5},{"d":"2026-06-26","s":"S","v":60.4},{"d":"2026-07-03","s":"S","v":81},{"d":"2026-07-11","s":"S","v":68},{"d":"2026-07-17","s":"S","v":59},{"d":"2026-07-21","s":"S","v":46},{"d":"2026-07-27","s":"S","v":68},{"d":"2026-07-31","s":"S","v":68},{"d":"2026-08-05","s":"S","v":76.7},{"d":"2026-08-14","s":"S","v":69.78}
],
"bd":[
{"d":"2025-07-01","s":"T","v":85.5},{"d":"2025-10-17","s":"T","v":85.5},{"d":"2025-10-20","s":"T","v":77.8},{"d":"2025-11-05","s":"T","v":77.8},{"d":"2025-11-06","s":"T","v":76.4},{"d":"2026-02-07","s":"T","v":76.4},{"d":"2026-02-08","s":"T","v":81.8},{"d":"2026-02-18","s":"T","v":81.8},{"d":"2026-02-19","s":"T","v":82.5},{"d":"2026-06-03","s":"T","v":82.5},{"d":"2026-06-04","s":"T","v":84.4},{"d":"2026-06-22","s":"T","v":84.4},{"d":"2026-06-24","s":"T","v":89.3},{"d":"2026-08-14","s":"T","v":89.32},
{"d":"2025-07-01","s":"B","v":2.5},{"d":"2025-07-03","s":"B","v":15},{"d":"2025-07-05","s":"B","v":24.6},{"d":"2025-09-12","s":"B","v":24.6},{"d":"2025-09-15","s":"B","v":29.6},{"d":"2025-10-12","s":"B","v":29.6},{"d":"2025-10-14","s":"B","v":31.5},{"d":"2025-11-17","s":"B","v":31.5},{"d":"2025-11-20","s":"B","v":22.4},{"d":"2026-02-15","s":"B","v":22.8},{"d":"2026-02-20","s":"B","v":38.5},{"d":"2026-03-02","s":"B","v":38.5},{"d":"2026-03-05","s":"B","v":9.6},{"d":"2026-06-01","s":"B","v":9.6},{"d":"2026-06-04","s":"B","v":16.7},{"d":"2026-06-08","s":"B","v":27.6},{"d":"2026-06-22","s":"B","v":28.7},{"d":"2026-06-23","s":"B","v":31},{"d":"2026-06-26","s":"B","v":43},{"d":"2026-07-17","s":"B","v":43.5},{"d":"2026-07-19","s":"B","v":38.6},{"d":"2026-08-14","s":"B","v":38.56}
],
"tr":[
{"d":"2025-07-01","v":45.7},{"d":"2025-07-05","v":45.97},{"d":"2025-07-09","v":45.3},{"d":"2025-07-14","v":44.6},{"d":"2025-07-19","v":44.17},{"d":"2025-07-24","v":44.7},{"d":"2025-07-27","v":45.8},{"d":"2025-07-28","v":45.7},{"d":"2025-07-31","v":44.77},{"d":"2025-08-05","v":42.5},{"d":"2025-08-08","v":41.16},{"d":"2025-08-11","v":42.5},{"d":"2025-08-15","v":44.77},{"d":"2025-08-18","v":45.64},{"d":"2025-08-21","v":46.1},{"d":"2025-08-25","v":45.97},{"d":"2025-08-31","v":45.77},{"d":"2025-09-04","v":45.3},{"d":"2025-09-10","v":43.97},{"d":"2025-09-14","v":44.5},{"d":"2025-09-20","v":45.64},{"d":"2025-09-24","v":46.58},{"d":"2025-09-30","v":46.78},{"d":"2025-10-06","v":47.45},{"d":"2025-10-10","v":47.2},{"d":"2025-10-13","v":45.64},{"d":"2025-10-14","v":44.97},{"d":"2025-10-17","v":43.43},{"d":"2025-10-21","v":44.97},{"d":"2025-10-25","v":46.78},{"d":"2025-10-30","v":47.65},{"d":"2025-11-03","v":46.98},{"d":"2025-11-08","v":45.4},{"d":"2025-11-11","v":44.6},{"d":"2025-11-13","v":44.5},{"d":"2025-11-16","v":45.6},{"d":"2025-11-18","v":45.4},{"d":"2025-11-20","v":45.2},{"d":"2025-11-22","v":42.97},{"d":"2025-11-25","v":41.1},{"d":"2025-11-28","v":42.97},{"d":"2025-12-01","v":45.64},{"d":"2025-12-05","v":47.65},{"d":"2025-12-09","v":48.1},{"d":"2025-12-13","v":48.0},{"d":"2025-12-17","v":48.3},{"d":"2025-12-22","v":47.3},{"d":"2025-12-25","v":47.3},{"d":"2025-12-31","v":48.5},{"d":"2026-01-05","v":47.8},{"d":"2026-01-09","v":47.85},{"d":"2026-01-16","v":49.45},{"d":"2026-01-20","v":48.98},{"d":"2026-01-25","v":46.64},{"d":"2026-02-01","v":47.85},{"d":"2026-02-07","v":49.2},{"d":"2026-02-12","v":50.0},{"d":"2026-02-18","v":49.45},{"d":"2026-02-21","v":49.8},{"d":"2026-02-27","v":50.86},{"d":"2026-03-03","v":50.3},{"d":"2026-03-06","v":47.85},{"d":"2026-03-08","v":44.97},{"d":"2026-03-12","v":42.97},{"d":"2026-03-15","v":41.6},{"d":"2026-03-22","v":40.4},{"d":"2026-03-27","v":40.76},{"d":"2026-03-30","v":40.76},{"d":"2026-04-02","v":42.1},{"d":"2026-04-05","v":43.8},{"d":"2026-04-08","v":45.64},{"d":"2026-04-12","v":49.65},{"d":"2026-04-16","v":51.0},{"d":"2026-04-21","v":51.33},{"d":"2026-04-25","v":51.1},{"d":"2026-04-29","v":50.5},{"d":"2026-05-03","v":50.5},{"d":"2026-05-07","v":50.1},{"d":"2026-05-12","v":48.8},{"d":"2026-05-18","v":50.1},{"d":"2026-05-23","v":51.8},{"d":"2026-05-28","v":52.1},{"d":"2026-06-03","v":52.3},{"d":"2026-06-07","v":51.66},{"d":"2026-06-11","v":50.45},{"d":"2026-06-18","v":51.8},{"d":"2026-06-22","v":51.45},{"d":"2026-06-27","v":50.6},{"d":"2026-07-03","v":53.46},{"d":"2026-07-08","v":53.6},{"d":"2026-07-15","v":53.1},{"d":"2026-07-22","v":51.9},{"d":"2026-07-27","v":52.86},{"d":"2026-08-01","v":51.86},{"d":"2026-08-06","v":53.46},{"d":"2026-08-14","v":54.92}
],
"sg":[
{"s":"2025-07-01","e":"2025-07-25","v":42.1,"k":"top"},{"s":"2025-07-25","e":"2025-09-12","v":42.73,"k":"top"},{"s":"2025-09-12","e":"2025-09-23","v":43.36,"k":"top"},{"s":"2025-09-23","e":"2025-10-10","v":43.5,"k":"top"},{"s":"2025-10-10","e":"2025-10-29","v":43.8,"k":"top"},{"s":"2025-10-29","e":"2025-11-14","v":44.2,"k":"top"},{"s":"2025-11-14","e":"2025-11-30","v":44.5,"k":"top"},{"s":"2025-11-30","e":"2025-12-13","v":44.7,"k":"top"},{"s":"2025-12-13","e":"2025-12-27","v":45.0,"k":"top"},{"s":"2025-12-27","e":"2026-01-08","v":45.25,"k":"top"},{"s":"2026-01-08","e":"2026-01-25","v":45.64,"k":"top"},{"s":"2026-01-29","e":"2026-02-14","v":45.9,"k":"top"},{"s":"2026-02-14","e":"2026-02-25","v":46.58,"k":"top"},{"s":"2026-02-25","e":"2026-04-08","v":47.05,"k":"top"},{"s":"2026-04-08","e":"2026-04-17","v":46.3,"k":"top"},{"s":"2026-04-17","e":"2026-04-29","v":47.1,"k":"top"},{"s":"2026-05-02","e":"2026-05-15","v":47.0,"k":"top"},{"s":"2026-05-13","e":"2026-05-21","v":47.25,"k":"top"},{"s":"2026-05-21","e":"2026-06-04","v":47.45,"k":"top"},{"s":"2026-06-04","e":"2026-06-17","v":48.3,"k":"top"},{"s":"2026-06-16","e":"2026-07-04","v":48.65,"k":"top"},{"s":"2026-07-03","e":"2026-07-10","v":49.3,"k":"top"},{"s":"2026-07-09","e":"2026-07-24","v":49.6,"k":"top"},{"s":"2026-07-25","e":"2026-08-04","v":50.2,"k":"top"},{"s":"2026-08-04","e":"2026-08-14","v":50.62,"k":"top"},
{"s":"2025-07-01","e":"2025-07-31","v":35.27,"k":"bot"},{"s":"2025-08-02","e":"2025-10-12","v":41.76,"k":"bot"},{"s":"2025-10-12","e":"2025-11-20","v":43.1,"k":"bot"},{"s":"2025-11-26","e":"2026-03-07","v":43.3,"k":"bot"},{"s":"2026-03-07","e":"2026-03-12","v":45.44,"k":"bot"},{"s":"2026-03-12","e":"2026-03-21","v":44.77,"k":"bot"},{"s":"2026-03-21","e":"2026-03-27","v":44.23,"k":"bot"},{"s":"2026-03-31","e":"2026-08-14","v":43.84,"k":"bot"}
]
},
"spacing":22,
"bounds":"flush",
"resolve":{"scale":{"fill":"independent","shape":"independent","stroke":"independent","color":"independent"}},
"vconcat":[
{
"width":715,"height":293,
"resolve":{"scale":{"x":"independent","y":"independent"}},
"layer":[
{"data":{"name":"pf"},"mark":{"type":"rect","color":"#c0c0c0"},
 "encoding":{"x":{"field":"pv","type":"quantitative","scale":{"domain":[0,1000],"range":[776,0],"nice":false,"zero":false},"axis":null},"x2":{"datum":0},
 "y":{"field":"lo","type":"quantitative","scale":{"domain":[37.42,51.61],"nice":false,"zero":false},"axis":null},"y2":{"field":"hi"}}},
{"data":{"name":"px"},"mark":{"type":"bar","width":1.6,"color":"#f5a88c"},
 "encoding":{"x":{"field":"d","type":"temporal","scale":{"type":"utc","domain":[{"year":2025,"month":6,"date":30,"hours":12,"utc":true},{"year":2026,"month":8,"date":16,"hours":12,"utc":true}],"nice":false},"axis":null},
 "y":{"field":"v","type":"quantitative","scale":{"domain":[0,3000],"nice":false,"zero":false},"axis":null}}},
{
"layer":[
{"data":{"name":"tl"},"transform":[{"filter":"datum.s == 'Sup-2'"}],"mark":{"type":"line","strokeWidth":1,"color":"#008000"},
 "encoding":{"x":{"field":"d","type":"temporal","title":null,"scale":{"type":"utc","domain":[{"year":2025,"month":6,"date":30,"hours":12,"utc":true},{"year":2026,"month":8,"date":16,"hours":12,"utc":true}],"nice":false},
 "axis":{"title":null,"values":[{"year":2025,"month":7,"date":1,"utc":true},{"year":2025,"month":8,"date":1,"utc":true},{"year":2025,"month":9,"date":1,"utc":true},{"year":2025,"month":10,"date":1,"utc":true},{"year":2025,"month":11,"date":1,"utc":true},{"year":2025,"month":12,"date":1,"utc":true},{"year":2026,"month":1,"date":1,"utc":true},{"year":2026,"month":2,"date":1,"utc":true},{"year":2026,"month":3,"date":1,"utc":true},{"year":2026,"month":4,"date":1,"utc":true},{"year":2026,"month":5,"date":1,"utc":true},{"year":2026,"month":6,"date":1,"utc":true},{"year":2026,"month":7,"date":1,"utc":true},{"year":2026,"month":8,"date":1,"utc":true}],
 "labelExpr":"utcFormat(datum.value,'%m')=='01' ? utcFormat(datum.value,'%Y') : utcFormat(datum.value,'%b')","labelAlign":"left","labelOffset":3,"labelPadding":-5.5,"tickSize":8,"labelFontSize":12,"labelFlush":false,"labelOverlap":false,"grid":true,"gridOpacity":{"condition":{"test":"utcFormat(datum.value,'%m')=='01'","value":1},"value":0},"zindex":1}},
 "y":{"field":"v","type":"quantitative","title":null,"scale":{"domain":[37.42,51.61],"nice":false,"zero":false},"axis":{"title":null,"orient":"right","values":[38,40,42,44,46,48,50],"tickSize":4,"labelPadding":38,"labelFontSize":13,"labelAlign":"left","grid":true,"zindex":1}}}},
{"data":{"name":"tl"},"transform":[{"filter":"datum.s == 'Sup-1'"}],"mark":{"type":"line","strokeWidth":1,"color":"#0000ff"},"encoding":{"x":{"field":"d","type":"temporal","title":null},"y":{"field":"v","type":"quantitative","title":null}}},
{"data":{"name":"tl"},"transform":[{"filter":"datum.s == 'Res-1'"}],"mark":{"type":"line","strokeWidth":1,"color":"#ff00ff"},"encoding":{"x":{"field":"d","type":"temporal","title":null},"y":{"field":"v","type":"quantitative","title":null}}},
{"data":{"name":"tl"},"transform":[{"filter":"datum.s == 'Res-2'"}],"mark":{"type":"line","strokeWidth":1,"color":"#ff0000"},"encoding":{"x":{"field":"d","type":"temporal","title":null},"y":{"field":"v","type":"quantitative","title":null}}},
{"data":{"name":"px"},"mark":{"type":"rule","color":"#000000","strokeWidth":1},"encoding":{"x":{"field":"d","type":"temporal","title":null},"y":{"field":"l","type":"quantitative","title":null},"y2":{"field":"h"}}},
{"data":{"name":"px"},"mark":{"type":"bar","width":2,"stroke":"#000000","strokeWidth":0.8},"encoding":{"x":{"field":"d","type":"temporal","title":null},"y":{"field":"o","type":"quantitative","title":null},"y2":{"field":"c"},"fill":{"condition":{"test":"datum.c >= datum.o","value":"#ffffff"},"value":"#000000"}}},
{"data":{"name":"at"},"mark":{"type":"point","filled":true,"size":196,"strokeWidth":0,"opacity":1},
 "encoding":{"x":{"field":"d","type":"temporal","title":null},"y":{"field":"v","type":"quantitative","title":null},
 "shape":{"field":"t","type":"nominal","scale":{"domain":["down","up"],"range":["M-0.28,-2L0.28,-2L0.28,-0.95L0.75,-0.95L0,0L-0.75,-0.95L-0.28,-0.95Z","M-0.28,2L0.28,2L0.28,0.95L0.75,0.95L0,0L-0.75,0.95L-0.28,0.95Z"]},"legend":null},
 "fill":{"field":"t","type":"nominal","scale":{"domain":["down","up"],"range":["#ff0000","#009000"]},"legend":null}}},
{"data":{"values":[{"a":1}]},"mark":{"type":"rule","color":"#000000","strokeWidth":1},"encoding":{"x":{"datum":{"year":2025,"month":6,"date":30,"hours":12,"utc":true},"type":"temporal"},"y":{"datum":37.42,"type":"quantitative"},"y2":{"datum":51.61}}},
{"data":{"values":[{"a":1}]},"mark":{"type":"rule","color":"#000000","strokeWidth":1},"encoding":{"x":{"datum":{"year":2026,"month":3,"date":29,"utc":true},"type":"temporal"},"x2":{"datum":{"year":2026,"month":8,"date":16,"hours":12,"utc":true}},"y":{"datum":51.61,"type":"quantitative"}}},
{"data":{"values":[{"a":1}]},"mark":{"type":"text","text":"TDVG - Daily 2026-08-14 Open 50.525\u00a0 High 50.615\u00a0 Low 50.47\u00a0 Close 50.56 (-0.2%)","align":"left","baseline":"alphabetic","fontSize":12.2,"color":"#000000"},"encoding":{"x":{"datum":{"year":2025,"month":7,"date":4,"utc":true},"type":"temporal"},"y":{"datum":51.334,"type":"quantitative"}}},
{"data":{"values":[{"a":1}]},"mark":{"type":"text","text":"Vol 39,837","align":"left","baseline":"alphabetic","fontSize":12.2,"color":"#000000"},"encoding":{"x":{"datum":{"year":2025,"month":7,"date":4,"utc":true},"type":"temporal"},"y":{"datum":50.64,"type":"quantitative"}}},
{"data":{"values":[{"a":1}]},"mark":{"type":"text","text":"Res-1","align":"left","baseline":"alphabetic","fontSize":12.2,"dx":61.7,"color":"#ff00ff"},"encoding":{"x":{"datum":{"year":2025,"month":7,"date":4,"utc":true},"type":"temporal"},"y":{"datum":50.64,"type":"quantitative"}}},
{"data":{"values":[{"a":1}]},"mark":{"type":"text","text":"= 50.63,","align":"left","baseline":"alphabetic","fontSize":12.2,"dx":97.6,"color":"#000000"},"encoding":{"x":{"datum":{"year":2025,"month":7,"date":4,"utc":true},"type":"temporal"},"y":{"datum":50.64,"type":"quantitative"}}},
{"data":{"values":[{"a":1}]},"mark":{"type":"text","text":"Res-2","align":"left","baseline":"alphabetic","fontSize":12.2,"dx":145.4,"color":"#ff0000"},"encoding":{"x":{"datum":{"year":2025,"month":7,"date":4,"utc":true},"type":"temporal"},"y":{"datum":50.64,"type":"quantitative"}}},
{"data":{"values":[{"a":1}]},"mark":{"type":"text","text":"= 50.63,","align":"left","baseline":"alphabetic","fontSize":12.2,"dx":181.3,"color":"#000000"},"encoding":{"x":{"datum":{"year":2025,"month":7,"date":4,"utc":true},"type":"temporal"},"y":{"datum":50.64,"type":"quantitative"}}},
{"data":{"values":[{"a":1}]},"mark":{"type":"text","text":"Sup-1","align":"left","baseline":"alphabetic","fontSize":12.2,"dx":229.1,"color":"#0000ff"},"encoding":{"x":{"datum":{"year":2025,"month":7,"date":4,"utc":true},"type":"temporal"},"y":{"datum":50.64,"type":"quantitative"}}},
{"data":{"values":[{"a":1}]},"mark":{"type":"text","text":"= 49.52,","align":"left","baseline":"alphabetic","fontSize":12.2,"dx":265.0,"color":"#000000"},"encoding":{"x":{"datum":{"year":2025,"month":7,"date":4,"utc":true},"type":"temporal"},"y":{"datum":50.64,"type":"quantitative"}}},
{"data":{"values":[{"a":1}]},"mark":{"type":"text","text":"Sup-2","align":"left","baseline":"alphabetic","fontSize":12.2,"dx":312.8,"color":"#008000"},"encoding":{"x":{"datum":{"year":2025,"month":7,"date":4,"utc":true},"type":"temporal"},"y":{"datum":50.64,"type":"quantitative"}}},
{"data":{"values":[{"a":1}]},"mark":{"type":"text","text":"= 47.83","align":"left","baseline":"alphabetic","fontSize":12.2,"dx":348.7,"color":"#000000"},"encoding":{"x":{"datum":{"year":2025,"month":7,"date":4,"utc":true},"type":"temporal"},"y":{"datum":50.64,"type":"quantitative"}}}
]
}
]
},
{
"spacing":10,
"bounds":"flush",
"vconcat":[
{
"width":715,"height":86,
"layer":[
{"data":{"name":"bd"},"mark":{"type":"line","color":"#000000","strokeWidth":1},
 "encoding":{"x":{"field":"d","type":"temporal","title":null,"scale":{"type":"utc","domain":[{"year":2025,"month":6,"date":30,"hours":12,"utc":true},{"year":2026,"month":8,"date":16,"hours":12,"utc":true}],"nice":false},"axis":{"title":null,"labels":false,"ticks":false,"grid":false,"domain":true,"zindex":1}},
 "y":{"field":"v","type":"quantitative","title":null,"scale":{"domain":[1.1,94.9],"nice":false,"zero":false},"axis":{"title":null,"orient":"right","values":[20,40,60,80],"tickSize":4,"labelPadding":38,"labelFontSize":13,"labelAlign":"left","grid":true,"zindex":1}},"detail":{"field":"s","type":"nominal"}}},
{"data":{"name":"os"},"transform":[{"filter":"datum.s == 'S'"}],"mark":{"type":"line","color":"#0000ff","strokeWidth":1,"interpolate":"monotone"},"encoding":{"x":{"field":"d","type":"temporal","title":null},"y":{"field":"v","type":"quantitative","title":null}}},
{"data":{"name":"os"},"transform":[{"filter":"datum.s == 'L'"}],"mark":{"type":"line","color":"#ff0000","strokeWidth":1,"interpolate":"monotone"},"encoding":{"x":{"field":"d","type":"temporal","title":null},"y":{"field":"v","type":"quantitative","title":null}}},
{"data":{"values":[{"a":1}]},"mark":{"type":"rule","color":"#000000","strokeWidth":1},"encoding":{"x":{"datum":{"year":2025,"month":6,"date":30,"hours":12,"utc":true},"type":"temporal"},"y":{"datum":1.1,"type":"quantitative"},"y2":{"datum":94.9}}},
{"data":{"values":[{"a":1}]},"mark":{"type":"rule","color":"#000000","strokeWidth":1},"encoding":{"x":{"datum":{"year":2026,"month":1,"date":26,"utc":true},"type":"temporal"},"x2":{"datum":{"year":2026,"month":8,"date":16,"hours":12,"utc":true}},"y":{"datum":94.9,"type":"quantitative"}}},
{"data":{"values":[{"a":1}]},"mark":{"type":"text","text":"TDVG -","align":"left","baseline":"alphabetic","fontSize":12,"color":"#000000"},"encoding":{"x":{"datum":{"year":2025,"month":7,"date":4,"utc":true},"type":"temporal"},"y":{"datum":90.21,"type":"quantitative"}}},
{"data":{"values":[{"a":1}]},"mark":{"type":"text","text":"Line","align":"left","baseline":"alphabetic","fontSize":12,"dx":44.0,"color":"#ff0000"},"encoding":{"x":{"datum":{"year":2025,"month":7,"date":4,"utc":true},"type":"temporal"},"y":{"datum":90.21,"type":"quantitative"}}},
{"data":{"values":[{"a":1}]},"mark":{"type":"text","text":"= 64.06, Top = 89.32, Bottom = 38.56,","align":"left","baseline":"alphabetic","fontSize":12,"dx":70.0,"color":"#000000"},"encoding":{"x":{"datum":{"year":2025,"month":7,"date":4,"utc":true},"type":"temporal"},"y":{"datum":90.21,"type":"quantitative"}}},
{"data":{"values":[{"a":1}]},"mark":{"type":"text","text":"Signal","align":"left","baseline":"alphabetic","fontSize":12,"dx":276.5,"color":"#0000ff"},"encoding":{"x":{"datum":{"year":2025,"month":7,"date":4,"utc":true},"type":"temporal"},"y":{"datum":90.21,"type":"quantitative"}}},
{"data":{"values":[{"a":1}]},"mark":{"type":"text","text":"= 69.78","align":"left","baseline":"alphabetic","fontSize":12,"dx":313.2,"color":"#000000"},"encoding":{"x":{"datum":{"year":2025,"month":7,"date":4,"utc":true},"type":"temporal"},"y":{"datum":90.21,"type":"quantitative"}}}
]
},
{
"width":715,"height":316,
"layer":[
{"data":{"name":"sg"},"transform":[{"filter":"datum.k == 'top'"}],"mark":{"type":"rule","strokeWidth":4,"strokeCap":"butt","color":"#ff0000"},
 "encoding":{"x":{"field":"s","type":"temporal","title":null,"scale":{"type":"utc","domain":[{"year":2025,"month":6,"date":30,"hours":12,"utc":true},{"year":2026,"month":8,"date":16,"hours":12,"utc":true}],"nice":false},
 "axis":{"title":null,"values":[{"year":2025,"month":7,"date":1,"utc":true},{"year":2025,"month":8,"date":1,"utc":true},{"year":2025,"month":9,"date":1,"utc":true},{"year":2025,"month":10,"date":1,"utc":true},{"year":2025,"month":11,"date":1,"utc":true},{"year":2025,"month":12,"date":1,"utc":true},{"year":2026,"month":1,"date":1,"utc":true},{"year":2026,"month":2,"date":1,"utc":true},{"year":2026,"month":3,"date":1,"utc":true},{"year":2026,"month":4,"date":1,"utc":true},{"year":2026,"month":5,"date":1,"utc":true},{"year":2026,"month":6,"date":1,"utc":true},{"year":2026,"month":7,"date":1,"utc":true},{"year":2026,"month":8,"date":1,"utc":true}],
 "labelExpr":"utcFormat(datum.value,'%m')=='01' ? utcFormat(datum.value,'%Y') : utcFormat(datum.value,'%b')","labelAlign":"left","labelOffset":3,"labelPadding":-5,"tickSize":6,"labelFontSize":12,"labelFlush":false,"labelOverlap":false,"grid":true,"gridOpacity":{"condition":{"test":"utcFormat(datum.value,'%m')=='01'","value":1},"value":0},"zindex":1}},
 "x2":{"field":"e"},
 "y":{"field":"v","type":"quantitative","title":null,"scale":{"domain":[34.75,55.95],"nice":false,"zero":false},"axis":{"title":null,"orient":"right","values":[36,38,40,42,44,46,48,50,52,54],"tickSize":4,"labelPadding":38,"labelFontSize":13,"labelAlign":"left","grid":true,"zindex":1}}}},
{"data":{"name":"sg"},"transform":[{"filter":"datum.k == 'bot'"}],"mark":{"type":"rule","strokeWidth":4,"strokeCap":"butt","color":"#009000"},"encoding":{"x":{"field":"s","type":"temporal","title":null},"x2":{"field":"e"},"y":{"field":"v","type":"quantitative","title":null}}},
{"data":{"name":"tr"},"mark":{"type":"line","color":"#0000ff","strokeWidth":1,"interpolate":"monotone"},"encoding":{"x":{"field":"d","type":"temporal","title":null},"y":{"field":"v","type":"quantitative","title":null}}},
{"data":{"name":"px"},"mark":{"type":"rule","color":"#000000","strokeWidth":1},"encoding":{"x":{"field":"d","type":"temporal","title":null},"y":{"field":"l","type":"quantitative","title":null},"y2":{"field":"h"}}},
{"data":{"name":"px"},"mark":{"type":"bar","width":2,"stroke":"#000000","strokeWidth":0.8},"encoding":{"x":{"field":"d","type":"temporal","title":null},"y":{"field":"o","type":"quantitative","title":null},"y2":{"field":"c"},"fill":{"condition":{"test":"datum.c >= datum.o","value":"#ffffff"},"value":"#000000"}}},
{"data":{"name":"ab"},"mark":{"type":"point","filled":true,"size":196,"strokeWidth":0,"opacity":1},
 "encoding":{"x":{"field":"d","type":"temporal","title":null},"y":{"field":"v","type":"quantitative","title":null},
 "shape":{"field":"t","type":"nominal","scale":{"domain":["down","up"],"range":["M-0.28,-2L0.28,-2L0.28,-0.95L0.75,-0.95L0,0L-0.75,-0.95L-0.28,-0.95Z","M-0.28,2L0.28,2L0.28,0.95L0.75,0.95L0,0L-0.75,0.95L-0.28,0.95Z"]},"legend":null},
 "fill":{"field":"t","type":"nominal","scale":{"domain":["down","up"],"range":["#ff0000","#009000"]},"legend":null}}},
{"data":{"values":[{"a":1}]},"mark":{"type":"rule","color":"#000000","strokeWidth":1},"encoding":{"x":{"datum":{"year":2025,"month":6,"date":30,"hours":12,"utc":true},"type":"temporal"},"y":{"datum":34.75,"type":"quantitative"},"y2":{"datum":55.95}}},
{"data":{"values":[{"a":1}]},"mark":{"type":"rule","color":"#000000","strokeWidth":1},"encoding":{"x":{"datum":{"year":2026,"month":3,"date":12,"utc":true},"type":"temporal"},"x2":{"datum":{"year":2026,"month":8,"date":16,"hours":12,"utc":true}},"y":{"datum":55.95,"type":"quantitative"}}},
{"data":{"values":[{"a":1}]},"mark":{"type":"text","text":"TDVG - Daily 2026-08-14 Open 50.525,Hi 50.615,Lo 50.47, Close 50.56 (-0.2%)","align":"left","baseline":"alphabetic","fontSize":12.2,"color":"#000000"},"encoding":{"x":{"datum":{"year":2025,"month":7,"date":4,"utc":true},"type":"temporal"},"y":{"datum":55.57,"type":"quantitative"}}},
{"data":{"values":[{"a":1}]},"mark":{"type":"text","text":"Vol 3,983,700","align":"left","baseline":"alphabetic","fontSize":12.2,"color":"#000000"},"encoding":{"x":{"datum":{"year":2025,"month":7,"date":4,"utc":true},"type":"temporal"},"y":{"datum":54.61,"type":"quantitative"}}},
{"data":{"values":[{"a":1}]},"mark":{"type":"text","text":"Top","align":"left","baseline":"alphabetic","fontSize":12.2,"dx":78.7,"color":"#ff0000"},"encoding":{"x":{"datum":{"year":2025,"month":7,"date":4,"utc":true},"type":"temporal"},"y":{"datum":54.61,"type":"quantitative"}}},
{"data":{"values":[{"a":1}]},"mark":{"type":"text","text":"= 50.62,","align":"left","baseline":"alphabetic","fontSize":12.2,"dx":103.1,"color":"#000000"},"encoding":{"x":{"datum":{"year":2025,"month":7,"date":4,"utc":true},"type":"temporal"},"y":{"datum":54.61,"type":"quantitative"}}},
{"data":{"values":[{"a":1}]},"mark":{"type":"text","text":"Bottom","align":"left","baseline":"alphabetic","fontSize":12.2,"dx":150.9,"color":"#008000"},"encoding":{"x":{"datum":{"year":2025,"month":7,"date":4,"utc":true},"type":"temporal"},"y":{"datum":54.61,"type":"quantitative"}}},
{"data":{"values":[{"a":1}]},"mark":{"type":"text","text":"= 43.86,","align":"left","baseline":"alphabetic","fontSize":12.2,"dx":192.9,"color":"#000000"},"encoding":{"x":{"datum":{"year":2025,"month":7,"date":4,"utc":true},"type":"temporal"},"y":{"datum":54.61,"type":"quantitative"}}},
{"data":{"values":[{"a":1}]},"mark":{"type":"text","text":"Trend","align":"left","baseline":"alphabetic","fontSize":12.2,"dx":240.7,"color":"#0000ff"},"encoding":{"x":{"datum":{"year":2025,"month":7,"date":4,"utc":true},"type":"temporal"},"y":{"datum":54.61,"type":"quantitative"}}},
{"data":{"values":[{"a":1}]},"mark":{"type":"text","text":"= 54.92","align":"left","baseline":"alphabetic","fontSize":12.2,"dx":276.0,"color":"#000000"},"encoding":{"x":{"datum":{"year":2025,"month":7,"date":4,"utc":true},"type":"temporal"},"y":{"datum":54.61,"type":"quantitative"}}}
]
}
]
}
]
}
